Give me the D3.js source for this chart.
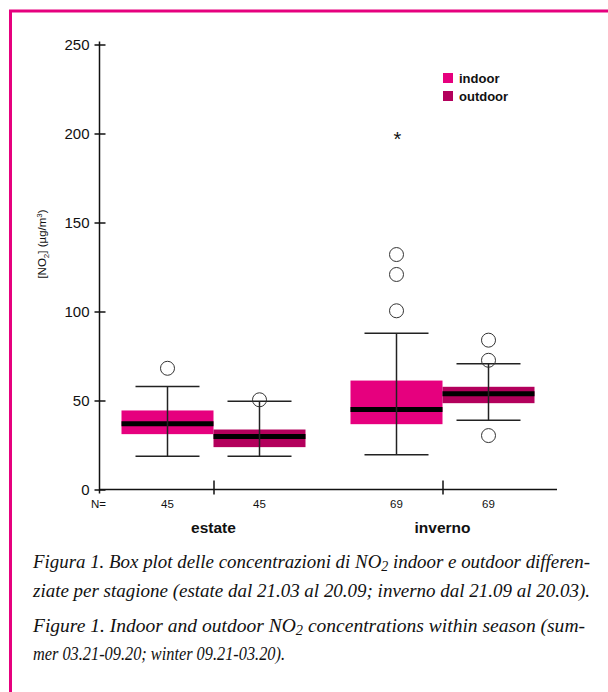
<!DOCTYPE html>
<html>
<head>
<meta charset="utf-8">
<script src="https://cdn.jsdelivr.net/npm/d3@7"></script>
<style>
  body { margin: 0; background: #fff; }
  svg { display: block; }
  text { font-family: "Liberation Sans", Arial, sans-serif; fill: #111; }
  .caption { font-family: "Liberation Serif", "Times New Roman", serif; font-style: italic; font-size: 19px; }
</style>
</head>
<body>
<svg id="chart"></svg>
<script>
const groups = ['estate', 'inverno'];
const series = ['indoor', 'outdoor'];
const counts = [[45, 45], [69, 69]];
const yTicks = [0, 50, 100, 150, 200, 250];

// box stats per group (estate, inverno)
const indoorLow = [18.7, 19.5];
const indoorQ1 = [31.1, 36.7];
const indoorMedian = [36.9, 44.9];
const indoorQ3 = [44.4, 61.2];
const indoorHigh = [57.9, 87.8];
const indoorOutliers = [[68.1], [100.4, 120.8, 132]];
const indoorExtremes = [[], [199]];

const outdoorLow = [18.7, 38.9];
const outdoorQ1 = [23.8, 48.5];
const outdoorMedian = [29.8, 53.8];
const outdoorQ3 = [33.7, 57.7];
const outdoorHigh = [49.6, 70.6];
const outdoorOutliers = [[50.4], [30.3, 72.6, 83.9]];
const outdoorExtremes = [[], []];

const captionLines = [
  ['Figura 1. Box plot delle concentrazioni di NO', '2', ' indoor e outdoor differen-'],
  ['ziate per stagione (estate dal 21.03 al 20.09; inverno dal 21.09 al 20.03).'],
  ['Figure 1. Indoor and outdoor NO', '2', ' concentrations within season (sum-'],
  ['mer 03.21-09.20; winter 09.21-03.20).']
];

const width = 608,
  height = 692,
  pink = '#e6007e',
  colors = {indoor: '#e6007e', outdoor: '#b3005c'};

const svg = d3.select('#chart')
  .attr('width', width)
  .attr('height', height);

// pink frame
svg.append('path')
  .attr('d', `M10.5,${height} V11 H${width}`)
  .attr('fill', 'none')
  .attr('stroke', pink)
  .attr('stroke-width', 3);

const y = d3.scaleLinear()
  .domain([0, 250])
  .range([489.5, 44.5]);

const x = d3.scalePoint()
  .domain(groups)
  .range([99, 557])
  .padding(0.5);

const sub = d3.scaleBand()
  .domain(series)
  .range([-92, 92]);

const boxes = [];
groups.forEach((g, i) => {
  boxes.push({group: g, series: 'indoor', n: counts[i][0], low: indoorLow[i], q1: indoorQ1[i],
    median: indoorMedian[i], q3: indoorQ3[i], high: indoorHigh[i],
    outliers: indoorOutliers[i], extremes: indoorExtremes[i]});
  boxes.push({group: g, series: 'outdoor', n: counts[i][1], low: outdoorLow[i], q1: outdoorQ1[i],
    median: outdoorMedian[i], q3: outdoorQ3[i], high: outdoorHigh[i],
    outliers: outdoorOutliers[i], extremes: outdoorExtremes[i]});
});

const cx = d => x(d.group) + sub(d.series) + sub.bandwidth() / 2;

// y axis
const yAxis = svg.append('g')
  .attr('transform', 'translate(99.5,0)')
  .call(d3.axisLeft(y).tickValues(yTicks).tickSize(5).tickPadding(5));

yAxis.select('.domain')
  .attr('d', `M0,${y(250) - 3}V${y(0) + 4}`)
  .attr('stroke', '#111')
  .attr('stroke-width', 1.5);

yAxis.selectAll('.tick line')
  .attr('x1', -5)
  .attr('x2', 6)
  .attr('stroke', '#111')
  .attr('stroke-width', 1.5);

yAxis.selectAll('.tick text')
  .attr('font-size', 15)
  .attr('font-family', '"Liberation Sans", Arial, sans-serif')
  .attr('fill', '#111');

// x axis
svg.append('line')
  .attr('x1', 99)
  .attr('x2', 557)
  .attr('y1', y(0))
  .attr('y2', y(0))
  .attr('stroke', '#111')
  .attr('stroke-width', 1.5);

svg.selectAll('.xtick')
  .data(groups)
  .enter().append('line')
  .attr('x1', d => x(d) + 0.5)
  .attr('x2', d => x(d) + 0.5)
  .attr('y1', y(0) - 9)
  .attr('y2', y(0) + 5)
  .attr('stroke', '#111')
  .attr('stroke-width', 1.5);

svg.selectAll('.glabel')
  .data(groups)
  .enter().append('text')
  .attr('x', d => x(d))
  .attr('y', 533)
  .attr('text-anchor', 'middle')
  .attr('font-size', 15.5)
  .attr('font-weight', 'bold')
  .text(d => d);

svg.append('text')
  .attr('x', 91)
  .attr('y', 508)
  .attr('font-size', 11.5)
  .attr('fill', '#333')
  .text('N=');

svg.selectAll('.nlabel')
  .data(boxes)
  .enter().append('text')
  .attr('x', cx)
  .attr('y', 508)
  .attr('text-anchor', 'middle')
  .attr('font-size', 11.5)
  .attr('fill', '#333')
  .text(d => d.n);

// boxes
const box = svg.selectAll('.box')
  .data(boxes)
  .enter().append('g')
  .attr('class', 'box');

box.append('rect')
  .attr('x', d => x(d.group) + sub(d.series))
  .attr('y', d => y(d.q3))
  .attr('width', sub.bandwidth())
  .attr('height', d => y(d.q1) - y(d.q3))
  .attr('fill', d => colors[d.series]);

box.append('line')
  .attr('x1', d => x(d.group) + sub(d.series))
  .attr('x2', d => x(d.group) + sub(d.series) + sub.bandwidth())
  .attr('y1', d => y(d.median))
  .attr('y2', d => y(d.median))
  .attr('stroke', '#000')
  .attr('stroke-width', 5);

box.append('line')
  .attr('x1', cx)
  .attr('x2', cx)
  .attr('y1', d => y(d.low))
  .attr('y2', d => y(d.high))
  .attr('stroke', '#222')
  .attr('stroke-width', 1.5);

['low', 'high'].forEach(k => {
  box.append('line')
    .attr('x1', d => cx(d) - 32)
    .attr('x2', d => cx(d) + 32)
    .attr('y1', d => y(d[k]))
    .attr('y2', d => y(d[k]))
    .attr('stroke', '#222')
    .attr('stroke-width', 1.5);
});

box.selectAll('circle')
  .data(d => d.outliers.map(v => ({v, x: cx(d)})))
  .enter().append('circle')
  .attr('cx', d => d.x)
  .attr('cy', d => y(d.v))
  .attr('r', 7)
  .attr('fill', 'none')
  .attr('stroke', '#333')
  .attr('stroke-width', 1);

box.selectAll('.extreme')
  .data(d => d.extremes.map(v => ({v, x: cx(d)})))
  .enter().append('text')
  .attr('class', 'extreme')
  .attr('x', d => d.x + 1)
  .attr('y', d => y(d.v) + 11)
  .attr('text-anchor', 'middle')
  .attr('font-size', 20)
  .text('*');

// y label
const yLabel = svg.append('text')
  .attr('transform', 'translate(46,244) rotate(-90)')
  .attr('text-anchor', 'middle')
  .attr('font-size', 11.5);
yLabel.append('tspan').text('[NO');
yLabel.append('tspan').attr('font-size', 8).attr('dy', 3).text('2');
yLabel.append('tspan').attr('dy', -3).text('] (µg/m');
yLabel.append('tspan').attr('font-size', 8).attr('dy', -4).text('3');
yLabel.append('tspan').attr('dy', 4).text(')');

// legend
const legend = svg.append('g')
  .attr('transform', 'translate(443,73)');

const legendItem = legend.selectAll('g')
  .data(series)
  .enter().append('g')
  .attr('transform', (d, i) => `translate(0,${i * 18})`);

legendItem.append('rect')
  .attr('width', 10)
  .attr('height', 10)
  .attr('fill', d => colors[d]);

legendItem.append('text')
  .attr('x', 16)
  .attr('y', 10)
  .attr('font-size', 13)
  .attr('font-weight', 'bold')
  .text(d => d);

// caption
const captionY = [568, 597, 632, 660],
  captionW = [557, 557, 552, 252];

captionLines.forEach((parts, i) => {
  const t = svg.append('text')
    .attr('class', 'caption')
    .attr('x', 33)
    .attr('y', captionY[i])
    .attr('textLength', captionW[i])
    .attr('lengthAdjust', 'spacingAndGlyphs');
  parts.forEach((p, j) => {
    if (parts.length > 1 && j === 1) {
      t.append('tspan').attr('font-size', 14).attr('dy', 3).text(p);
    } else if (j === 2) {
      t.append('tspan').attr('dy', -3).text(p);
    } else {
      t.append('tspan').text(p);
    }
  });
});
</script>
</body>
</html>
